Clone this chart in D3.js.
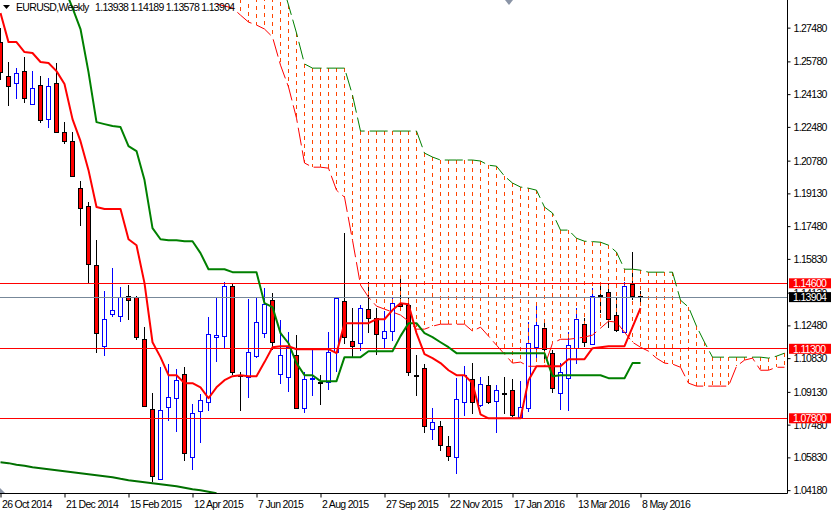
<!DOCTYPE html>
<html><head><meta charset="utf-8">
<script src="https://cdn.jsdelivr.net/npm/d3@7/dist/d3.min.js"></script>
<style>
html,body{margin:0;padding:0;background:#fff;overflow:hidden}
svg{display:block}
svg text{font-family:"Liberation Sans",Arial,sans-serif;font-size:10.5px;letter-spacing:-0.68px;fill:#000}
</style></head><body>
<svg id="c" width="831" height="511"></svg>
<script>
const symbolText="EURUSD,Weekly";
const ohlcText="1.13938 1.14189 1.13578 1.13904";
const opens=[1.2675,1.2504,1.2469,1.2529,1.2363,1.2459,1.2287,1.2469,1.2222,1.2176,1.1939,1.1849,1.1552,1.1143,1.1305,1.1295,1.1395,1.1390,1.1178,1.0826,1.0473,1.0836,1.0881,1.1002,1.0584,1.0816,1.0861,1.1189,1.1194,1.1446,1.0997,1.0987,1.1093,1.1209,1.1375,1.1002,1.0987,1.1098,1.0831,1.0977,1.0962,1.0962,1.1113,1.1370,1.1168,1.1158,1.1330,1.1284,1.1183,1.1219,1.1355,1.1350,1.0997,1.1032,1.0725,1.0740,1.0639,1.0584,1.0861,1.0977,1.0846,1.0947,1.0866,1.0906,1.0921,1.0785,1.0831,1.1138,1.1234,1.1108,1.0906,1.0982,1.1133,1.1254,1.1153,1.1400,1.1415,1.1300,1.1214,1.1456,1.13938];
const highs=[1.2746,1.2575,1.2544,1.2600,1.2529,1.2504,1.2494,1.2570,1.2272,1.2222,1.1975,1.1869,1.1677,1.1420,1.1536,1.1440,1.1450,1.1395,1.1239,1.0906,1.1037,1.1053,1.1027,1.1037,1.0851,1.0901,1.1289,1.1390,1.1466,1.1456,1.1012,1.1380,1.1385,1.1436,1.1410,1.1274,1.1214,1.1199,1.1012,1.1123,1.0997,1.1214,1.1385,1.1713,1.1335,1.1350,1.1466,1.1335,1.1320,1.1385,1.1486,1.1385,1.1098,1.1053,1.0831,1.0765,1.0689,1.0982,1.1042,1.1058,1.0987,1.0992,1.0947,1.0987,1.0977,1.0967,1.1264,1.1365,1.1274,1.1123,1.1058,1.1214,1.1335,1.1284,1.1436,1.1446,1.1461,1.1390,1.1466,1.1617,1.14189];
const lows=[1.2484,1.2353,1.2388,1.2368,1.2363,1.2267,1.2242,1.2217,1.2161,1.2000,1.1748,1.1461,1.1108,1.1093,1.1289,1.1264,1.1274,1.1173,1.0836,1.0458,1.0473,1.0765,1.0710,1.0564,1.0518,1.0655,1.0816,1.1063,1.1133,1.0997,1.0816,1.0881,1.1083,1.1183,1.1123,1.0951,1.0911,1.0831,1.0806,1.0891,1.0846,1.0921,1.1012,1.1153,1.1088,1.1118,1.1209,1.1098,1.1133,1.1168,1.1330,1.0992,1.0891,1.0705,1.0669,1.0614,1.0564,1.0498,1.0790,1.0800,1.0836,1.0851,1.0705,1.0800,1.0785,1.0785,1.0811,1.1073,1.1073,1.0906,1.0821,1.0816,1.1053,1.1138,1.1148,1.1310,1.1234,1.1214,1.1214,1.1375,1.13578];
const closes=[1.2524,1.2454,1.2519,1.2393,1.2444,1.2282,1.2454,1.2222,1.2176,1.2000,1.1839,1.1557,1.1209,1.1279,1.1325,1.1390,1.1375,1.1189,1.0841,1.0488,1.0821,1.0886,1.0972,1.0604,1.0806,1.0871,1.1204,1.1199,1.1446,1.1012,1.0992,1.1113,1.1264,1.1355,1.1163,1.1098,1.1138,1.0831,1.0977,1.0982,1.0957,1.1113,1.1385,1.1189,1.1143,1.1335,1.1284,1.1204,1.1219,1.1360,1.1345,1.1012,1.0992,1.0740,1.0760,1.0644,1.0589,1.0876,1.0997,1.0861,1.0952,1.0861,1.0921,1.0901,1.0795,1.0836,1.1158,1.1249,1.1128,1.0931,1.1012,1.1148,1.1279,1.1163,1.1395,1.1395,1.1279,1.1224,1.1446,1.1395,1.13904];
const tenkan=[1.2821,1.2675,1.2675,1.2625,1.2620,1.2575,1.2570,1.2529,1.2464,1.2287,1.2176,1.2030,1.1844,1.1834,1.1834,1.1834,1.1682,1.1652,1.1461,1.1163,1.1088,1.0997,1.0997,1.0957,1.0957,1.0936,1.0881,1.0936,1.0972,1.0992,1.0997,1.0992,1.0992,1.1063,1.1138,1.1143,1.1143,1.1128,1.1128,1.1128,1.1128,1.1128,1.1108,1.1259,1.1259,1.1259,1.1259,1.1279,1.1279,1.1325,1.1360,1.1355,1.1209,1.1103,1.1083,1.1058,1.1022,1.0997,1.0997,1.0957,1.0800,1.0780,1.0780,1.0780,1.0780,1.0780,1.0972,1.1042,1.1042,1.1042,1.1042,1.1078,1.1078,1.1078,1.1133,1.1138,1.1143,1.1143,1.1143,1.1239,1.1335];
const kijunStart=8;
const kijun=[1.2947,1.2847,1.2741,1.2524,1.2272,1.2262,1.2252,1.2247,1.2151,1.2126,1.1980,1.1738,1.1682,1.1677,1.1677,1.1672,1.1672,1.1612,1.1531,1.1531,1.1531,1.1516,1.1516,1.1516,1.1516,1.1360,1.1340,1.1209,1.1158,1.1058,1.0997,1.0997,1.0967,1.0967,1.0967,1.1088,1.1088,1.1088,1.1118,1.1118,1.1118,1.1118,1.1194,1.1259,1.1259,1.1209,1.1189,1.1163,1.1138,1.1108,1.1108,1.1108,1.1108,1.1108,1.1108,1.1108,1.1108,1.1108,1.1108,1.1108,1.1108,1.0992,1.0997,1.0997,1.0997,1.0997,1.0997,1.0997,1.0982,1.0982,1.0982,1.1058,1.1058];
const chikou=[1.0559,1.0554,1.0546,1.0541,1.0533,1.0528,1.0523,1.0518,1.0513,1.0508,1.0503,1.0498,1.0493,1.0488,1.0483,1.0475,1.0468,1.0463,1.0458,1.0453,1.0448,1.0443,1.0438,1.0430,1.0422,1.0417,1.0410,1.0402];
const spanAStart=27;
const spanA=[1.2867,1.2857,1.2847,1.2811,1.2776,1.2761,1.2741,1.2701,1.2559,1.2449,1.2292,1.2066,1.2045,1.2045,1.2040,1.1929,1.1894,1.1677,1.1451,1.1390,1.1345,1.1330,1.1315,1.1300,1.1269,1.1229,1.1229,1.1244,1.1254,1.1254,1.1254,1.1254,1.1219,1.1239,1.1194,1.1148,1.1103,1.1058,1.1063,1.1042,1.1042,1.1042,1.1158,1.1178,1.1178,1.1183,1.1189,1.1199,1.1234,1.1269,1.1264,1.1214,1.1163,1.1138,1.1118,1.1083,1.1058,1.1053,1.1037,1.0957,1.0942,1.0942,1.0942,1.0942,1.0942,1.1042,1.1073,1.1083,1.1022,1.1022,1.1037,1.1037];
const spanBStart=30;
const spanB=[1.3416,1.3391,1.3341,1.3265,1.3139,1.2998,1.2862,1.2721,1.2565,1.2544,1.2544,1.2544,1.2544,1.2544,1.2408,1.2227,1.2227,1.2227,1.2227,1.2227,1.2227,1.2227,1.2227,1.2116,1.2096,1.2081,1.2081,1.2081,1.2081,1.2081,1.2076,1.2055,1.2050,1.2000,1.1965,1.1945,1.1939,1.1929,1.1844,1.1814,1.1728,1.1728,1.1687,1.1672,1.1670,1.1667,1.1652,1.1617,1.1531,1.1531,1.1526,1.1516,1.1516,1.1516,1.1516,1.1375,1.1340,1.1244,1.1163,1.1088,1.1088,1.1088,1.1088,1.1088,1.1088,1.1088,1.1083,1.1093,1.1108];
const priceTicks=[1.2748,1.2578,1.2413,1.2248,1.2078,1.1913,1.1748,1.1583,1.1413,1.1248,1.1083,1.0913,1.0748,1.0583,1.0418];
const dateTickBars=[0,8,16,24,32,40,48,56,64,72,80];
const dateLabels=["26 Oct 2014","21 Dec 2014","15 Feb 2015","12 Apr 2015","7 Jun 2015","2 Aug 2015","27 Sep 2015","22 Nov 2015","17 Jan 2016","13 Mar 2016","8 May 2016"];
const redLevels=[1.146,1.113,1.078];
const bidLevel=1.13904;

const W=787.5,H=493.5;
const x=d3.scaleLinear().domain([0,98]).range([0.5,784.5]);
const y=d3.scaleLinear().domain([1.146+283.3/1985,1.146-210.2/1985]).range([0,H]);
const svg=d3.select("#c");
svg.append("defs").append("clipPath").attr("id","pane").append("rect").attr("width",W).attr("height",H);
const g=svg.append("g").attr("clip-path","url(#pane)");
const px=v=>Math.round(y(v))+0.5;
const lv=v=>Math.floor(y(v))+0.5;
const bars=d3.range(opens.length);

g.append("g").selectAll("line").data(bars).join("line")
 .attr("x1",x).attr("x2",x).attr("y1",k=>y(highs[k])).attr("y2",k=>y(lows[k]))
 .attr("stroke",k=>closes[k]>opens[k]?"#0000ff":"#000").attr("stroke-width",1).attr("shape-rendering","crispEdges");

g.append("g").selectAll("line").data(d3.range(30,99)).join("line")
 .attr("x1",x).attr("x2",x)
 .attr("y1",k=>y(spanB[k-spanBStart])).attr("y2",k=>y(spanA[k-spanAStart]))
 .attr("stroke","#ff4500").attr("stroke-width",1).attr("stroke-dasharray","4,4").attr("shape-rendering","crispEdges");

g.append("g").selectAll("rect").data(bars).join("rect")
 .attr("x",k=>x(k)-2).attr("width",4)
 .attr("y",k=>px(Math.max(opens[k],closes[k])))
 .attr("height",k=>Math.max(0,px(Math.min(opens[k],closes[k]))-px(Math.max(opens[k],closes[k]))))
 .attr("fill",k=>closes[k]>opens[k]?"#fff":"#ff0000")
 .attr("stroke",k=>closes[k]>opens[k]?"#0000ff":"#000").attr("stroke-width",1).attr("shape-rendering","crispEdges");

g.selectAll("line.lv").data(redLevels).join("line").attr("class","lv")
 .attr("x1",0).attr("x2",W).attr("y1",lv).attr("y2",lv).attr("stroke","#ff0000").attr("stroke-width",1.2);
g.append("line").attr("x1",0).attr("x2",W).attr("y1",lv(bidLevel)).attr("y2",lv(bidLevel))
 .attr("stroke","#778899").attr("stroke-width",1).attr("shape-rendering","crispEdges");

const line=start=>d3.line().x((d,i)=>x(i+start)).y(d=>y(d));
const addLine=(data,start,color,w,dash)=>g.append("path").attr("d",line(start)(data)).attr("fill","none")
 .attr("stroke",color).attr("stroke-width",w).attr("stroke-linejoin","round").attr("stroke-dasharray",dash||null);

addLine(spanA,spanAStart,"#ff0000",1,"18,5");
addLine(spanB,spanBStart,"#008000",1,"18,5");
addLine(chikou,0,"#007000",2);
addLine(kijun,kijunStart,"#008000",2);
addLine(tenkan,0,"#ff0000",2);

const yAxis=d3.axisRight(y).tickValues(priceTicks).tickSize(3).tickPadding(3).tickFormat(d3.format(".5f"));
const ya=svg.append("g").attr("transform",`translate(${W},0)`).call(yAxis);
ya.attr("font-family",null).attr("font-size",null);
ya.select(".domain").attr("stroke","#000").attr("stroke-width",1).attr("d",`M0,0V${H}`);
const xAxis=d3.axisBottom(x).tickValues(dateTickBars).tickSize(4).tickPadding(3).tickFormat((d,i)=>dateLabels[i]);
const xa=svg.append("g").attr("transform",`translate(0,${H})`).call(xAxis);
xa.attr("font-family",null).attr("font-size",null);
xa.select(".domain").attr("stroke","#000").attr("stroke-width",1).attr("d",`M0,0H${W}`);
xa.selectAll("text").attr("text-anchor","start").attr("x",1);

const tags=[[1.146,"#ff0000"],[1.113,"#ff0000"],[1.078,"#ff0000"],[bidLevel,"#000"]];
tags.forEach(([v,c])=>{
  const t=svg.append("g").attr("transform",`translate(789,${y(v)})`);
  t.append("rect").attr("x",0).attr("y",-5).attr("width",42).attr("height",10).attr("fill",c);
  t.append("text").attr("x",4).attr("y",4).style("fill","#fff").text(d3.format(".5f")(v));
});

svg.append("path").attr("d",d3.line()([[3,5],[10,5],[6.5,9]])+"Z").attr("fill","#000");
svg.append("text").attr("x",16).attr("y",11).text(symbolText);
svg.append("text").attr("x",95).attr("y",11).text(ohlcText);
svg.append("path").attr("d",d3.line()([[505,0],[513,0],[509,5]])+"Z").attr("fill","#8a94a6");
svg.append("path").attr("d",d3.line()([[0,493],[5,493],[0,488]])+"Z").attr("fill","#8a94a6");
</script>
</body></html>
